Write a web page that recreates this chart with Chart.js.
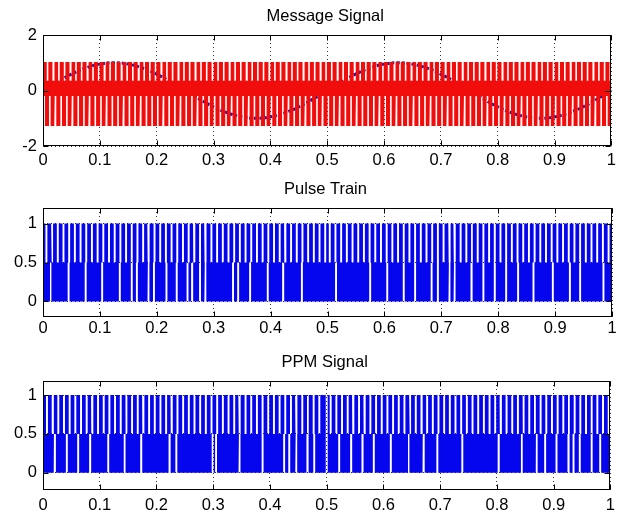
<!DOCTYPE html>
<html>
<head>
<meta charset="utf-8">
<script src="https://cdn.jsdelivr.net/npm/chart.js@4.4.1/dist/chart.umd.min.js"></script>
<style>
  html, body { margin: 0; padding: 0; background: #fff; overflow: hidden; }
  #wrap { position: relative; width: 621px; height: 511px; }
  canvas { position: absolute; left: 0; }
</style>
</head>
<body>
<div id="wrap">
  <canvas id="msg" width="621" height="170" style="top:0"></canvas>
  <canvas id="pulse" width="621" height="170" style="top:170px"></canvas>
  <canvas id="ppm" width="621" height="171" style="top:340px"></canvas>
</div>
<script>
// axes
const xTicks = [0, 0.1, 0.2, 0.3, 0.4, 0.5, 0.6, 0.7, 0.8, 0.9, 1];
const xTickLabels = ["0", "0.1", "0.2", "0.3", "0.4", "0.5", "0.6", "0.7", "0.8", "0.9", "1"];
const msgYTicks = [-2, 0, 2];
const pulseYTicks = [0, 0.5, 1];

// message signal (dotted curve)
const msgTime = [0, 0.025, 0.05, 0.075, 0.1, 0.125, 0.15, 0.175, 0.2, 0.225,
  0.25, 0.275, 0.3, 0.325, 0.35, 0.375, 0.4, 0.425, 0.45, 0.475,
  0.5, 0.525, 0.55, 0.575, 0.6, 0.625, 0.65, 0.675, 0.7, 0.725,
  0.75, 0.775, 0.8, 0.825, 0.85, 0.875, 0.9, 0.925, 0.95, 0.975, 1];
const msgValues = [0, 0.31, 0.59, 0.81, 0.95, 1, 0.95, 0.81, 0.59, 0.31,
  0, -0.31, -0.59, -0.81, -0.95, -1, -0.95, -0.81, -0.59, -0.31,
  0, 0.31, 0.59, 0.81, 0.95, 1, 0.95, 0.81, 0.59, 0.31,
  0, -0.31, -0.59, -0.81, -0.95, -1, -0.95, -0.81, -0.59, -0.31, 0];

// red carrier band: levels and where the white slivers sit
const carrierLevels = [1.03, -1.28];       // top, bottom of band
const carrierGapLevels = [0.35, -0.2];     // how far slivers reach in
const carrierTopGaps = [
  0.008, 0.018, 0.028, 0.038, 0.048, 0.058, 0.068, 0.078, 0.088, 0.098,
  0.108, 0.118, 0.128, 0.138, 0.148, 0.158, 0.168, 0.178, 0.188, 0.198,
  0.208, 0.218, 0.228, 0.238, 0.248, 0.258, 0.268, 0.278, 0.288, 0.298,
  0.308, 0.318, 0.328, 0.338, 0.348, 0.358, 0.368, 0.378, 0.388, 0.398,
  0.408, 0.418, 0.428, 0.438, 0.448, 0.458, 0.468, 0.478, 0.488, 0.498,
  0.508, 0.518, 0.528, 0.538, 0.548, 0.558, 0.568, 0.578, 0.588, 0.598,
  0.608, 0.618, 0.628, 0.638, 0.648, 0.658, 0.668, 0.678, 0.688, 0.698,
  0.708, 0.718, 0.728, 0.738, 0.748, 0.758, 0.768, 0.778, 0.788, 0.798,
  0.808, 0.818, 0.828, 0.838, 0.848, 0.858, 0.868, 0.878, 0.888, 0.898,
  0.908, 0.918, 0.928, 0.938, 0.948, 0.958, 0.968, 0.978, 0.988, 0.998];
const carrierBottomGaps = [
  0.002, 0.012, 0.022, 0.032, 0.042, 0.052, 0.062, 0.072, 0.082, 0.092,
  0.102, 0.112, 0.122, 0.132, 0.142, 0.152, 0.162, 0.172, 0.182, 0.192,
  0.202, 0.212, 0.222, 0.232, 0.242, 0.252, 0.262, 0.272, 0.282, 0.292,
  0.302, 0.312, 0.322, 0.332, 0.342, 0.352, 0.362, 0.372, 0.382, 0.392,
  0.402, 0.412, 0.422, 0.432, 0.442, 0.452, 0.462, 0.472, 0.482, 0.492,
  0.502, 0.512, 0.522, 0.532, 0.542, 0.552, 0.562, 0.572, 0.582, 0.592,
  0.602, 0.612, 0.622, 0.632, 0.642, 0.652, 0.662, 0.672, 0.682, 0.692,
  0.702, 0.712, 0.722, 0.732, 0.742, 0.752, 0.762, 0.772, 0.782, 0.792,
  0.802, 0.812, 0.822, 0.832, 0.842, 0.852, 0.862, 0.872, 0.882, 0.892,
  0.902, 0.912, 0.922, 0.932, 0.942, 0.952, 0.962, 0.972, 0.982, 0.992];

// pulse train: gaps between pulses (upper half) and dropouts (lower half)
const pulseTopGaps = [
  0.006, 0.016, 0.026, 0.036, 0.046, 0.056, 0.066, 0.076, 0.086, 0.096,
  0.106, 0.116, 0.126, 0.136, 0.146, 0.156, 0.166, 0.176, 0.186, 0.196,
  0.206, 0.216, 0.226, 0.236, 0.246, 0.256, 0.266, 0.276, 0.286, 0.296,
  0.306, 0.316, 0.326, 0.336, 0.346, 0.356, 0.366, 0.376, 0.386, 0.396,
  0.406, 0.416, 0.426, 0.436, 0.446, 0.456, 0.466, 0.476, 0.486, 0.496,
  0.504, 0.514, 0.524, 0.534, 0.544, 0.554, 0.564, 0.574, 0.584, 0.594,
  0.604, 0.614, 0.624, 0.634, 0.644, 0.654, 0.664, 0.674, 0.684, 0.694,
  0.704, 0.714, 0.724, 0.734, 0.744, 0.754, 0.764, 0.774, 0.784, 0.794,
  0.804, 0.814, 0.824, 0.834, 0.844, 0.854, 0.864, 0.874, 0.884, 0.894,
  0.904, 0.914, 0.924, 0.934, 0.944, 0.954, 0.964, 0.974, 0.984, 0.994];
const pulseBottomGaps = [
  0.014, 0.045, 0.075, 0.104, 0.135, 0.156, 0.165, 0.185, 0.195, 0.217,
  0.235, 0.254, 0.262, 0.276, 0.285, 0.334, 0.343, 0.364, 0.395, 0.422,
  0.455, 0.515, 0.575, 0.605, 0.634, 0.654, 0.683, 0.694, 0.715, 0.723,
  0.753, 0.774, 0.794, 0.814, 0.835, 0.862, 0.896, 0.926, 0.944, 0.985];

// PPM signal
const ppmTopGaps = [
  0.007, 0.017, 0.027, 0.037, 0.047, 0.057, 0.067, 0.077, 0.087, 0.097,
  0.107, 0.117, 0.127, 0.137, 0.147, 0.157, 0.167, 0.177, 0.187, 0.197,
  0.207, 0.217, 0.227, 0.237, 0.247, 0.257, 0.267, 0.277, 0.287, 0.297,
  0.307, 0.317, 0.327, 0.337, 0.347, 0.357, 0.367, 0.377, 0.387, 0.397,
  0.407, 0.417, 0.427, 0.437, 0.447, 0.457, 0.467, 0.477, 0.487, 0.500,
  0.507, 0.517, 0.527, 0.537, 0.547, 0.557, 0.567, 0.577, 0.587, 0.597,
  0.607, 0.617, 0.627, 0.637, 0.647, 0.657, 0.667, 0.677, 0.687, 0.697,
  0.707, 0.717, 0.727, 0.737, 0.747, 0.757, 0.767, 0.777, 0.787, 0.797,
  0.807, 0.817, 0.827, 0.837, 0.847, 0.857, 0.867, 0.877, 0.887, 0.897,
  0.907, 0.917, 0.927, 0.937, 0.947, 0.957, 0.967, 0.977, 0.987, 0.997];
const ppmBottomGaps = [
  0.021, 0.042, 0.062, 0.083, 0.115, 0.144, 0.173, 0.223, 0.235, 0.299,
  0.305, 0.346, 0.387, 0.425, 0.434, 0.446, 0.466, 0.478, 0.500, 0.522,
  0.543, 0.563, 0.583, 0.613, 0.645, 0.671, 0.695, 0.739, 0.803, 0.844,
  0.870, 0.885, 0.905, 0.926, 0.935, 0.946, 0.967, 0.982];

Chart.defaults.font.family = '"Liberation Sans", Arial, sans-serif';
Chart.defaults.font.size = 16.5;
Chart.defaults.color = '#000';

// turns gap positions into an upper and a lower outline sharing the same x's
function buildBand(high, low, topGaps, topLevel, bottomGaps, bottomLevel, halfWidth) {
  const edges = [];
  topGaps.concat(bottomGaps).forEach(g => edges.push(g - halfWidth, g + halfWidth));
  edges.sort((a, b) => a - b);
  const inside = (x, gaps) => gaps.some(g => Math.abs(x - g) < halfWidth);
  const upper = [{x: 0, y: high}], lower = [{x: 0, y: low}];
  edges.forEach(e => {
    if (e <= 0 || e >= 1) return;
    [e - 1e-7, e + 1e-7].forEach(s => {
      upper.push({x: e, y: inside(s, topGaps) ? topLevel : high});
      lower.push({x: e, y: inside(s, bottomGaps) ? bottomLevel : low});
    });
  });
  upper.push({x: 1, y: high});
  lower.push({x: 1, y: low});
  return {upper, lower};
}

// box, inward ticks and title like a matlab axes
const matlabAxes = {
  id: 'matlabAxes',
  afterDraw(chart, args, opts) {
    const {ctx, chartArea: a, scales: {x, y}} = chart;
    const L = Math.round(a.left) + 0.5, R = Math.round(a.right) - 0.5;
    const T = Math.round(a.top) + 0.5, B = Math.round(a.bottom) - 0.5;
    ctx.save();
    ctx.strokeStyle = '#000';
    ctx.lineWidth = 1;
    ctx.strokeRect(L, T, R - L, B - T);
    ctx.beginPath();
    xTicks.forEach(v => {
      const px = Math.round(x.getPixelForValue(v)) + 0.5;
      ctx.moveTo(px, B); ctx.lineTo(px, B - 5);
      ctx.moveTo(px, T); ctx.lineTo(px, T + 5);
    });
    opts.yTicks.forEach(v => {
      const py = Math.round(y.getPixelForValue(v)) + 0.5;
      ctx.moveTo(L, py); ctx.lineTo(L + 5, py);
      ctx.moveTo(R, py); ctx.lineTo(R - 5, py);
    });
    ctx.stroke();
    ctx.fillStyle = '#000';
    ctx.font = '16.5px "Liberation Sans", Arial, sans-serif';
    ctx.textAlign = 'center';
    ctx.textBaseline = 'alphabetic';
    ctx.fillText(opts.title, (a.left + a.right) / 2 - 2, a.top - 14);
    ctx.restore();
  }
};

function makeScales(yMin, yMax, yTicks, xHeight, xPad) {
  return {
    x: {
      type: 'linear', min: 0, max: 1,
      afterBuildTicks: s => { s.ticks = xTicks.map(v => ({value: v})); },
      afterFit: s => { s.height = xHeight; },
      ticks: {padding: xPad, maxRotation: 0, autoSkip: false, callback: (v, i) => xTickLabels[i]},
      grid: {color: '#333', lineWidth: 1, drawTicks: false},
      border: {display: false, dash: [1, 3]}
    },
    y: {
      type: 'linear', min: yMin, max: yMax,
      afterBuildTicks: s => { s.ticks = yTicks.map(v => ({value: v})); },
      afterFit: s => { s.width = 43; },
      ticks: {padding: 6, autoSkip: false, callback: v => String(v)},
      grid: {color: '#333', lineWidth: 1, drawTicks: false},
      border: {display: false, dash: [1, 3]}
    }
  };
}

function makeChart(id, datasets, scales, padTop, title, yTicks) {
  return new Chart(document.getElementById(id), {
    type: 'line',
    data: {datasets},
    options: {
      responsive: false,
      animation: false,
      events: [],
      layout: {padding: {left: 0, right: 9, top: padTop, bottom: 0}},
      scales,
      plugins: {
        legend: {display: false},
        tooltip: {enabled: false},
        matlabAxes: {title, yTicks}
      }
    },
    plugins: [matlabAxes]
  });
}

// Message Signal
const red = buildBand(carrierLevels[0], carrierLevels[1], carrierTopGaps, carrierGapLevels[0],
  carrierBottomGaps, carrierGapLevels[1], 0.0014);
makeChart('msg', [
  {data: red.upper, fill: '+1', backgroundColor: '#f20d0d', borderWidth: 0, pointRadius: 0, order: 1},
  {data: red.lower, fill: false, borderWidth: 0, pointRadius: 0, order: 1},
  {data: msgTime.map((t, i) => ({x: t, y: msgValues[i]})), fill: false, borderColor: '#2a1296',
    borderWidth: 3, borderDash: [3, 2], pointRadius: 0, tension: 0.4, order: 2}
], makeScales(-2, 2, msgYTicks, 24, 5), 35, 'Message Signal', msgYTicks);

// Pulse Train
const pulse = buildBand(1, 0, pulseTopGaps, 0.5, pulseBottomGaps, 0.5, 0.0017);
makeChart('pulse', [
  {data: pulse.upper, fill: '+1', backgroundColor: '#0505ee', borderWidth: 0, pointRadius: 0},
  {data: pulse.lower, fill: false, borderWidth: 0, pointRadius: 0}
], makeScales(-0.2, 1.2, pulseYTicks, 23, 2), 38, 'Pulse Train', pulseYTicks);

// PPM Signal
const ppm = buildBand(1, 0, ppmTopGaps, 0.5, ppmBottomGaps, 0.5, 0.0017);
makeChart('ppm', [
  {data: ppm.upper, fill: '+1', backgroundColor: '#0505ee', borderWidth: 0, pointRadius: 0},
  {data: ppm.lower, fill: false, borderWidth: 0, pointRadius: 0}
], makeScales(-0.22, 1.18, pulseYTicks, 21, 6), 41, 'PPM Signal', pulseYTicks);
</script>
</body>
</html>
